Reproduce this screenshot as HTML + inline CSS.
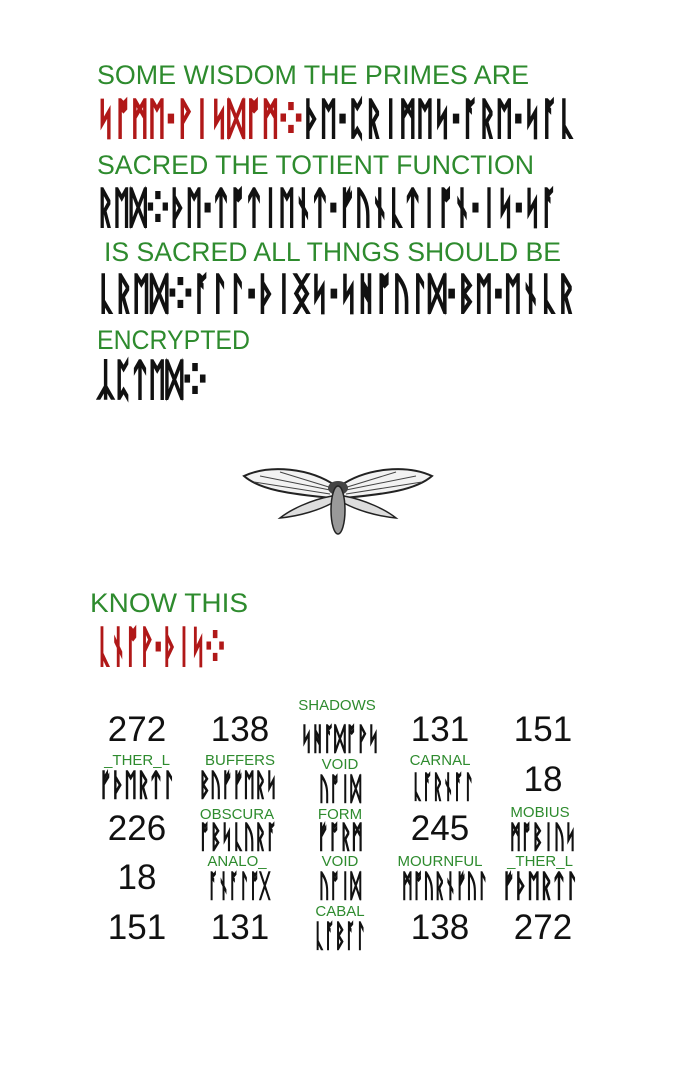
<!DOCTYPE html>
<html><head><meta charset="utf-8">
<style>
html,body{margin:0;padding:0;background:#fff;}
body{width:700px;height:1075px;position:relative;overflow:hidden;font-family:"Liberation Sans","DejaVu Sans",sans-serif;}
.g{position:absolute;color:#2e8b2e;font-size:27px;white-space:nowrap;transform-origin:0 0;}
.r{position:absolute;font-family:"DejaVu Sans","Liberation Sans",sans-serif;font-size:42px;font-weight:bold;white-space:nowrap;color:#111;line-height:44px;-webkit-text-stroke:2px currentColor;transform-origin:0 0;}
.red{color:#b01818;}
.n{position:absolute;font-size:35px;color:#111;width:100px;text-align:center;font-weight:300;}
.l{position:absolute;font-size:15px;color:#2e8b2e;width:110px;text-align:center;}
.s{position:absolute;font-family:"DejaVu Sans",sans-serif;font-size:30px;font-weight:bold;white-space:nowrap;color:#111;-webkit-text-stroke:1.2px #111;transform-origin:0 0;}
</style></head>
<body>
<div class="g fit" data-w="432" style="left:97px;top:60px">SOME WISDOM THE PRIMES ARE</div>
<div class="r fit" data-w="478" style="left:97px;top:97px"><span class="red">ᛋᚩᛗᛖ·ᚹᛁᛋᛞᚩᛗ⁘</span>ᚦᛖ·ᛈᚱᛁᛗᛖᛋ·ᚪᚱᛖ·ᛋᚪᚳ</div>
<div class="g fit" data-w="437" style="left:97px;top:150px">SACRED THE TOTIENT FUNCTION</div>
<div class="r fit" data-w="460" style="left:97px;top:186px">ᚱᛖᛞ⁘ᚦᛖ·ᛏᚩᛏᛁᛖᚾᛏ·ᚠᚢᚾᚳᛏᛁᚩᚾ·ᛁᛋ·ᛋᚪ</div>
<div class="g fit" data-w="457" style="left:104px;top:237px">IS SACRED ALL THNGS SHOULD BE</div>
<div class="r fit" data-w="478" style="left:97px;top:272px">ᚳᚱᛖᛞ⁘ᚪᛚᛚ·ᚦᛁᛝᛋ·ᛋᚻᚩᚢᛚᛞ·ᛒᛖ·ᛖᚾᚳᚱ</div>
<div class="g fit" data-w="153" style="left:97px;top:325px">ENCRYPTED</div>
<div class="r fit" data-w="110" style="left:97px;top:358px">ᛣᛈᛏᛖᛞ⁘</div>

<svg style="position:absolute;left:240px;top:464px" width="196" height="76" viewBox="0 0 196 76">
<path d="M96 22 C70 4 30 0 4 12 C20 26 50 30 92 34Z" fill="#f2f2f2" stroke="#222" stroke-width="2"/>
<path d="M100 22 C126 4 166 0 192 12 C176 26 146 30 104 34Z" fill="#f2f2f2" stroke="#222" stroke-width="2"/>
<path d="M92 32 C70 36 50 46 40 54 C60 52 80 46 94 38Z" fill="#ddd" stroke="#222" stroke-width="1.5"/>
<path d="M104 32 C126 36 146 46 156 54 C136 52 116 46 102 38Z" fill="#ddd" stroke="#222" stroke-width="1.5"/>
<g stroke="#444" stroke-width="1"><line x1="20" y1="12" x2="90" y2="26"/><line x1="40" y1="8" x2="92" y2="24"/><line x1="14" y1="18" x2="90" y2="30"/><line x1="176" y1="12" x2="106" y2="26"/><line x1="156" y1="8" x2="104" y2="24"/><line x1="182" y1="18" x2="106" y2="30"/></g>
<ellipse cx="98" cy="24" rx="10" ry="7" fill="#444"/>
<ellipse cx="98" cy="46" rx="7" ry="24" fill="#999" stroke="#222" stroke-width="1.5"/>
</svg>

<div class="g fit" data-w="158" style="left:90px;top:588px">KNOW THIS</div>
<div class="r red fit" data-w="128" style="left:97px;top:625px">ᚳᚾᚩᚹ·ᚦᛁᛋ⁘</div>

<div class="n" style="left:87px;top:710px">272</div>
<div class="n" style="left:190px;top:710px">138</div>
<div class="l" style="left:282px;top:697px">SHADOWS</div>
<div class="s fit" data-w="78" style="left:301px;top:722px">ᛋᚻᚪᛞᚩᚹᛋ</div>
<div class="n" style="left:390px;top:710px">131</div>
<div class="n" style="left:493px;top:710px">151</div>

<div class="l" style="left:82px;top:752px">_THER_L</div>
<div class="s fit" data-w="76" style="left:99px;top:768px">ᚠᚦᛖᚱᛏᛚ</div>
<div class="l" style="left:185px;top:752px">BUFFERS</div>
<div class="s fit" data-w="78" style="left:199px;top:768px">ᛒᚢᚠᚠᛖᚱᛋ</div>
<div class="l" style="left:285px;top:756px">VOID</div>
<div class="s fit" data-w="42" style="left:319px;top:772px">ᚢᚩᛁᛞ</div>
<div class="l" style="left:385px;top:752px">CARNAL</div>
<div class="s fit" data-w="62" style="left:412px;top:770px">ᚳᚪᚱᚾᚪᛚ</div>
<div class="n" style="left:493px;top:760px">18</div>

<div class="n" style="left:87px;top:809px">226</div>
<div class="l" style="left:182px;top:806px">OBSCURA</div>
<div class="s fit" data-w="78" style="left:199px;top:820px">ᚩᛒᛋᚳᚢᚱᚪ</div>
<div class="l" style="left:285px;top:806px">FORM</div>
<div class="s fit" data-w="46" style="left:317px;top:820px">ᚠᚩᚱᛗ</div>
<div class="n" style="left:390px;top:809px">245</div>
<div class="l" style="left:485px;top:804px">MOBIUS</div>
<div class="s fit" data-w="66" style="left:510px;top:820px">ᛗᚩᛒᛁᚢᛋ</div>

<div class="n" style="left:87px;top:858px">18</div>
<div class="l" style="left:182px;top:853px">ANALO_</div>
<div class="s fit" data-w="62" style="left:208px;top:869px">ᚪᚾᚪᛚᚩᚷ</div>
<div class="l" style="left:285px;top:853px">VOID</div>
<div class="s fit" data-w="42" style="left:319px;top:869px">ᚢᚩᛁᛞ</div>
<div class="l" style="left:385px;top:853px">MOURNFUL</div>
<div class="s fit" data-w="86" style="left:402px;top:869px">ᛗᚩᚢᚱᚾᚠᚢᛚ</div>
<div class="l" style="left:485px;top:853px">_THER_L</div>
<div class="s fit" data-w="76" style="left:502px;top:869px">ᚠᚦᛖᚱᛏᛚ</div>

<div class="n" style="left:87px;top:908px">151</div>
<div class="n" style="left:190px;top:908px">131</div>
<div class="l" style="left:285px;top:903px">CABAL</div>
<div class="s fit" data-w="52" style="left:314px;top:919px">ᚳᚪᛒᚪᛚ</div>
<div class="n" style="left:390px;top:908px">138</div>
<div class="n" style="left:493px;top:908px">272</div>
<script>
document.querySelectorAll('.fit').forEach(function(el){
  el.style.display='inline-block';
  var w=el.getBoundingClientRect().width;
  var t=parseFloat(el.getAttribute('data-w'));
  if(w>0) el.style.transform='scaleX('+(t/w)+')';
});
</script>
</body></html>
